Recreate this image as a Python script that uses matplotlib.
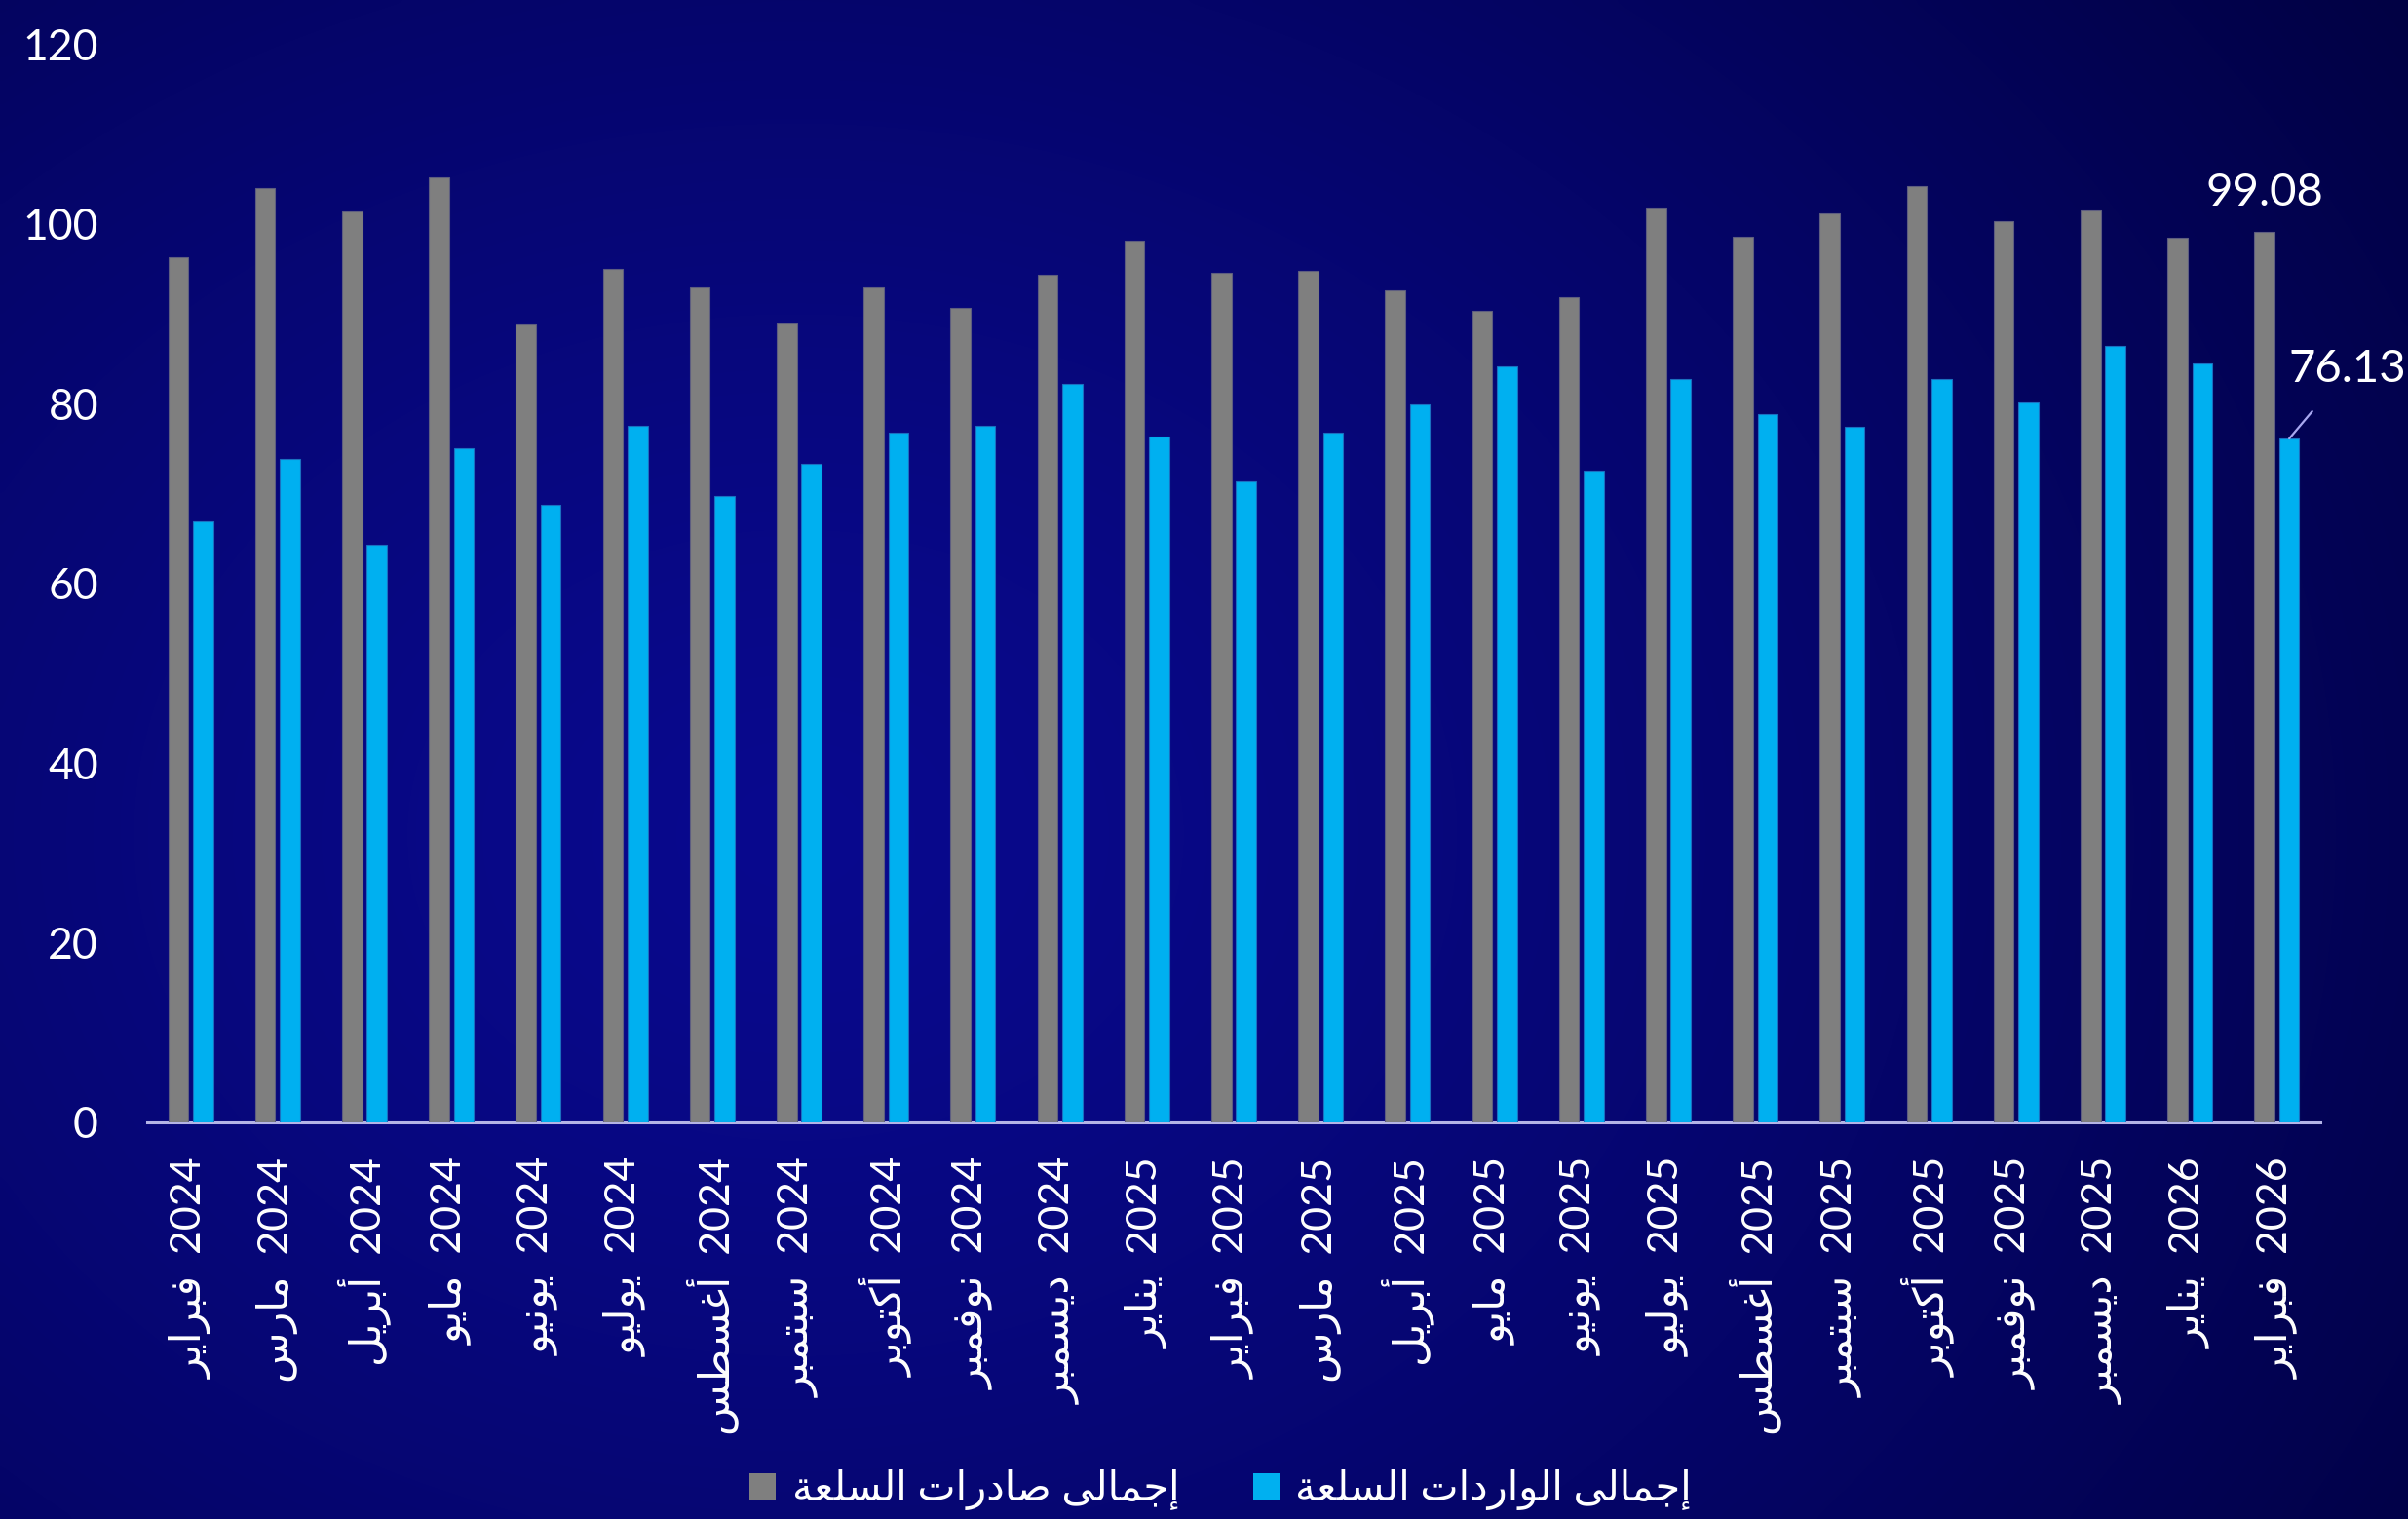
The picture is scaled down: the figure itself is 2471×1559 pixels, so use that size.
import numpy as np
import matplotlib
matplotlib.use("Agg")
import matplotlib.pyplot as plt
from matplotlib.patches import Patch
from matplotlib.colors import to_rgb

# ---------------- data ----------------
months = ["فبراير", "مارس", "أبريل", "مايو", "يونيو", "يوليو", "أغسطس", "سبتمبر",
          "أكتوبر", "نوفمبر", "ديسمبر", "يناير", "فبراير", "مارس", "أبريل", "مايو",
          "يونيو", "يوليو", "أغسطس", "سبتمبر", "أكتوبر", "نوفمبر", "ديسمبر", "يناير", "فبراير"]
years = ["2024"] * 11 + ["2025"] * 12 + ["2026"] * 2
exports = [96.3, 104.0, 101.4, 105.2, 88.8, 95.0, 93.0, 88.9, 93.0, 90.7, 94.4, 98.2, 94.6,
           94.8, 92.6, 90.3, 91.9, 101.8, 98.6, 101.2, 104.2, 100.3, 101.5, 98.5, 99.08]
imports = [66.9, 73.9, 64.3, 75.1, 68.8, 77.5, 69.7, 73.3, 76.8, 77.6, 82.2, 76.4, 71.4,
           76.8, 79.9, 84.2, 72.6, 82.8, 78.8, 77.4, 82.8, 80.2, 86.4, 84.5, 76.13]
series_names = ["إجمالى صادرات السلعة", "إجمالى الواردات السلعة"]
y_ticks = [0, 20, 40, 60, 80, 100, 120]

# ---------------- minimal Arabic shaping (presentation forms) ----------------
FORMS = {
    '\u0627': ('\uFE8D', '\uFE8E', None, None),
    '\u0623': ('\uFE83', '\uFE84', None, None),
    '\u0625': ('\uFE87', '\uFE88', None, None),
    '\u0628': ('\uFE8F', '\uFE90', '\uFE91', '\uFE92'),
    '\u0629': ('\uFE93', '\uFE94', None, None),
    '\u062A': ('\uFE95', '\uFE96', '\uFE97', '\uFE98'),
    '\u062C': ('\uFE9D', '\uFE9E', '\uFE9F', '\uFEA0'),
    '\u062F': ('\uFEA9', '\uFEAA', None, None),
    '\u0631': ('\uFEAD', '\uFEAE', None, None),
    '\u0633': ('\uFEB1', '\uFEB2', '\uFEB3', '\uFEB4'),
    '\u0635': ('\uFEB9', '\uFEBA', '\uFEBB', '\uFEBC'),
    '\u0637': ('\uFEC1', '\uFEC2', '\uFEC3', '\uFEC4'),
    '\u0639': ('\uFEC9', '\uFECA', '\uFECB', '\uFECC'),
    '\u063A': ('\uFECD', '\uFECE', '\uFECF', '\uFED0'),
    '\u0641': ('\uFED1', '\uFED2', '\uFED3', '\uFED4'),
    '\u0643': ('\uFED9', '\uFEDA', '\uFEDB', '\uFEDC'),
    '\u0644': ('\uFEDD', '\uFEDE', '\uFEDF', '\uFEE0'),
    '\u0645': ('\uFEE1', '\uFEE2', '\uFEE3', '\uFEE4'),
    '\u0646': ('\uFEE5', '\uFEE6', '\uFEE7', '\uFEE8'),
    '\u0648': ('\uFEED', '\uFEEE', None, None),
    '\u0649': ('\uFEEF', '\uFEF0', None, None),
    '\u064A': ('\uFEF1', '\uFEF2', '\uFEF3', '\uFEF4'),
}


def shape(text):
    chars = list(text)
    out = []
    for i, c in enumerate(chars):
        if c not in FORMS:
            out.append(c)
            continue
        iso, fin, ini, med = FORMS[c]
        prev = chars[i - 1] if i > 0 else None
        nxt = chars[i + 1] if i + 1 < len(chars) else None
        jp = prev in FORMS and FORMS[prev][2] is not None
        jn = nxt in FORMS and ini is not None
        if jp and jn:
            out.append(med)
        elif jp:
            out.append(fin)
        elif jn:
            out.append(ini)
        else:
            out.append(iso)
    return ''.join(reversed(out))


FAM = ['Lato', 'DejaVu Sans']
plt.rcParams['font.family'] = FAM

W, H = 2471, 1559
fig = plt.figure(figsize=(W / 100, H / 100), dpi=100)

# ---------------- background gradient ----------------
bg = fig.add_axes([0, 0, 1, 1], zorder=-10)
gx, gy = np.meshgrid(np.linspace(0, 1, 400), np.linspace(1, 0, 260))
d = np.sqrt(((gx - 0.33) / 0.80) ** 2 + ((gy - 0.45) / 1.0) ** 2)
t = np.clip(d, 0, 1) ** 1.3
bright = np.array(to_rgb('#09098e'))
dark = np.array(to_rgb('#010144'))
img = bright[None, None, :] * (1 - t[..., None]) + dark[None, None, :] * t[..., None]
bg.imshow(img, aspect='auto', extent=[0, 1, 0, 1], interpolation='bicubic')
bg.axis('off')

# ---------------- main axes ----------------
ax = fig.add_axes([151 / W, 1 - 1152 / H, (2381 - 151) / W, (1152 - 45.6) / H])
ax.patch.set_alpha(0)
x = np.arange(len(months))
bw = 0.23
off = 0.143
gray = '#7f7f7f'
blue = '#00b0f0'
ax.bar(x - off, exports, width=bw, color=gray, edgecolor='#5d5d80', linewidth=0.8, zorder=3)
ax.bar(x + off, imports, width=bw, color=blue, edgecolor='#1a70c0', linewidth=0.8, zorder=3)

ax.set_xlim(-0.5, len(months) - 0.5)
ax.set_ylim(0, 120)
ax.set_yticks(y_ticks)
ax.set_yticklabels([str(v) for v in y_ticks], fontsize=32, color='white')
ax.tick_params(axis='y', length=0, pad=36)
ax.set_xticks(x)
labels = [shape(m) + '  ' + y for m, y in zip(months, years)]
ax.set_xticklabels(labels, rotation=90, fontsize=31, color='white')
ax.tick_params(axis='x', length=0, pad=26)
for s in ['top', 'right', 'left']:
    ax.spines[s].set_visible(False)
ax.spines['bottom'].set_color('#b4b4e6')
ax.spines['bottom'].set_linewidth(2.2)

# ---------------- annotations ----------------
ax.annotate(f"{exports[-1]:.2f}", xy=(x[-1] - off, exports[-1]), xytext=(0, 14),
            textcoords='offset points', ha='center', va='bottom', fontsize=34, color='white')
ax.annotate(f"{imports[-1]:.2f}", xy=(x[-1] + off, imports[-1]), xytext=(43, 51),
            textcoords='offset points', ha='center', va='center', fontsize=34, color='white',
            arrowprops=dict(arrowstyle='-', color='#a8a8f0', lw=1.6, shrinkA=18, shrinkB=0),
            annotation_clip=False)

# ---------------- legend ----------------
handles = [Patch(facecolor=gray), Patch(facecolor=blue)]
leg = fig.legend(handles, [shape(n) for n in series_names], loc='center',
                 bbox_to_anchor=(0.507, 0.019), ncol=2, frameon=False, fontsize=30,
                 handlelength=0.65, handleheight=0.65, handletextpad=0.4, columnspacing=1.8)
for txt in leg.get_texts():
    txt.set_color('white')

fig.savefig('out.png', dpi=100)
